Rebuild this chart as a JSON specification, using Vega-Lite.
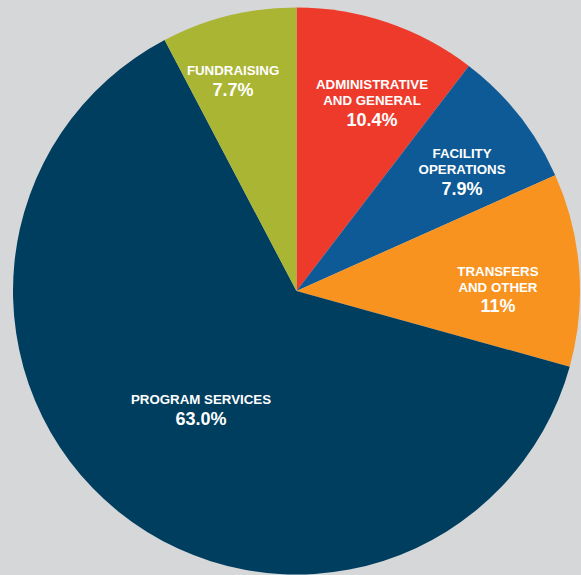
{
  "$schema": "https://vega.github.io/schema/vega-lite/v6.json",
  "width": 567,
  "height": 567,
  "autosize": "none",
  "padding": {"left": 13, "top": 7.5, "right": 1, "bottom": 0},
  "background": "#d6d7d9",
  "config": {"view": {"stroke": null}},
  "data": {
    "values": [
      {"idx": 1, "category": "Administrative and General", "label": "ADMINISTRATIVE\nAND GENERAL", "value": 10.4, "pct": "10.4%"},
      {"idx": 2, "category": "Facility Operations", "label": "FACILITY\nOPERATIONS", "value": 7.9, "pct": "7.9%"},
      {"idx": 3, "category": "Transfers and Other", "label": "TRANSFERS\nAND OTHER", "value": 11.0, "pct": "11%"},
      {"idx": 4, "category": "Program Services", "label": "PROGRAM SERVICES", "value": 63.0, "pct": "63.0%"},
      {"idx": 5, "category": "Fundraising", "label": "FUNDRAISING", "value": 7.7, "pct": "7.7%"}
    ]
  },
  "encoding": {
    "theta": {"field": "value", "type": "quantitative", "stack": true},
    "order": {"field": "idx", "type": "quantitative"}
  },
  "layer": [
    {
      "mark": {"type": "arc", "outerRadius": 283.5},
      "encoding": {
        "color": {
          "field": "category",
          "type": "nominal",
          "scale": {
            "domain": ["Administrative and General", "Facility Operations", "Transfers and Other", "Program Services", "Fundraising"],
            "range": ["#ee3a2b", "#0e5a96", "#f7931e", "#003e5f", "#aab534"]
          },
          "legend": null
        }
      }
    },
    {
      "mark": {
        "type": "text",
        "radius": {"expr": "datum.idx === 1 ? 187 : datum.idx === 2 ? 195 : datum.idx === 3 ? 202 : datum.idx === 4 ? 159 : 211"},
        "dx": {"expr": "datum.idx === 1 ? 15.5 : datum.idx === 2 ? 12.6 : datum.idx === 3 ? 0 : datum.idx === 4 ? 4.3 : -12.9"},
        "dy": {"expr": "datum.idx === 1 ? -24.6 : datum.idx === 2 ? -12.2 : datum.idx === 3 ? -0.2 : datum.idx === 4 ? -10.5 : -10.8"},
        "baseline": "alphabetic",
        "align": "center",
        "lineBreak": "\n",
        "lineHeight": 16,
        "font": "Liberation Sans",
        "fontWeight": "bold",
        "fontSize": 13.3,
        "fill": "#ffffff"
      },
      "encoding": {"text": {"field": "label", "type": "nominal"}}
    },
    {
      "mark": {
        "type": "text",
        "radius": {"expr": "datum.idx === 1 ? 187 : datum.idx === 2 ? 195 : datum.idx === 3 ? 202 : datum.idx === 4 ? 159 : 211"},
        "dx": {"expr": "datum.idx === 1 ? 15.5 : datum.idx === 2 ? 12.6 : datum.idx === 3 ? 0 : datum.idx === 4 ? 4.3 : -12.9"},
        "dy": {"expr": "datum.idx === 1 ? 7.1 : datum.idx === 2 ? 19.5 : datum.idx === 3 ? 31.5 : datum.idx === 4 ? 5.2 : 4.9"},
        "baseline": "middle",
        "align": "center",
        "font": "Liberation Sans",
        "fontWeight": "bold",
        "fontSize": 18,
        "fill": "#ffffff"
      },
      "encoding": {"text": {"field": "pct", "type": "nominal"}}
    }
  ]
}
